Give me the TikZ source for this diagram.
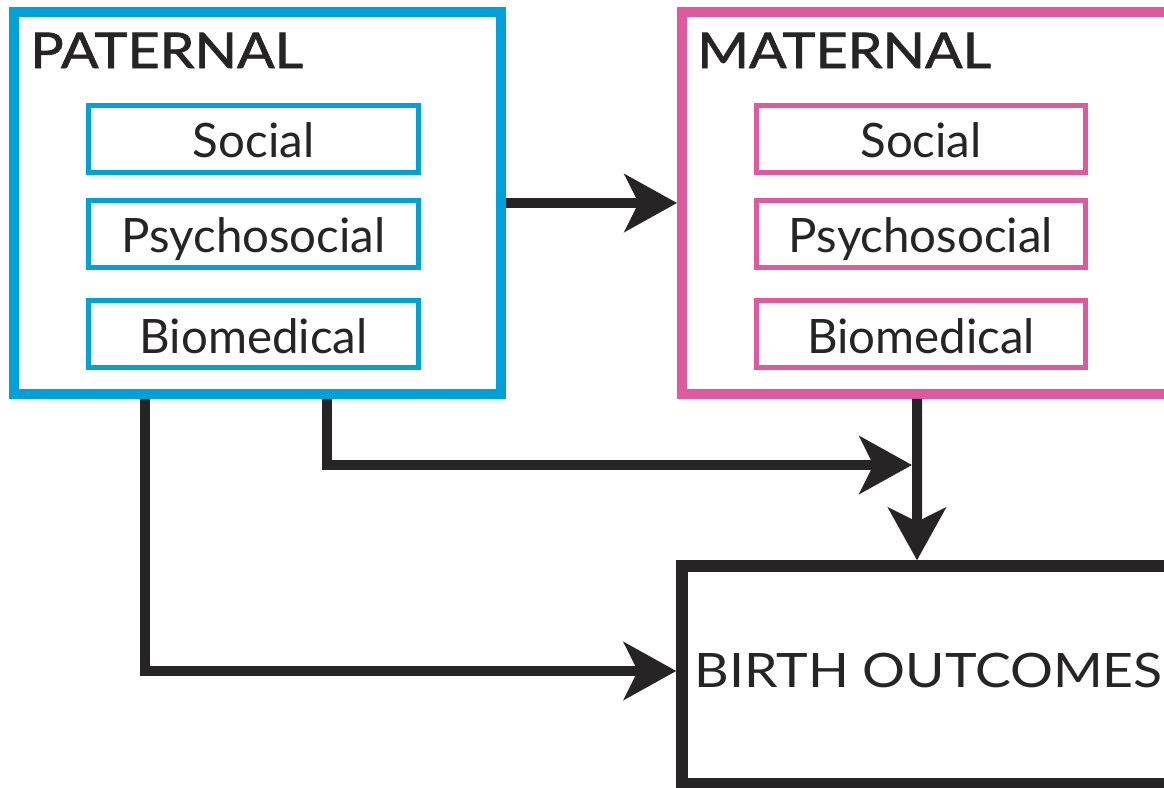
\documentclass[tikz,border=0pt]{standalone}
\usepackage{fontspec}
\setmainfont{Lato}
\newfontfamily\headfont[FakeBold=1.5,FakeStretch=1.13]{Lato}
\newfontfamily\widefont[FakeStretch=1.13]{Lato}
\usetikzlibrary{arrows.meta}
\definecolor{patblue}{RGB}{0,160,218}
\definecolor{matpink}{RGB}{224,88,158}
\definecolor{ink}{RGB}{38,36,37}
\begin{document}
\begin{tikzpicture}[x=0.02cm, y=-0.02cm,
  every node/.style={font=\fontsize{27}{30}\selectfont, text=ink},
  outer/.style={draw,line width=0.2cm,minimum width=9.74cm,minimum height=7.64cm,inner sep=0pt},
  factor/.style={draw,line width=0.1cm,minimum width=6.6cm,minimum height=1.34cm,inner sep=0pt,text height=0.76cm,text depth=0cm},
  head/.style={anchor=base west,inner sep=0pt,font=\headfont\fontsize{28}{30}\selectfont},
  arr/.style={line width=0.2cm,draw=ink,-{Stealth[length=1.05cm,width=1.15cm,inset=0.28cm]}}]
\clip (0,0) rectangle (1164,788);
\fill[white] (0,0) rectangle (1164,788);
% the two parent boxes
\node[outer,draw=patblue] (pat) at (257.5,203) {};
\node[outer,draw=matpink] (mat) at (925.5,203) {};
\node[head] (pathead) at (30,68) {PATERNAL};
\node[head] (mathead) at (697,68) {MATERNAL};
\foreach \y/\t/\n in {139/Social/soc,234/Psychosocial/psy,334/Biomedical/bio} {
  \node[factor,draw=patblue] (p\n) at (253.5,\y) {\t};
  \node[factor,draw=matpink] (m\n) at (921,\y) {\t};
}
% outcome
\node[draw=ink,line width=0.23cm,minimum width=9.84cm,minimum height=4.36cm,inner sep=0pt] (birth) at (928,675) {};
\node[anchor=base west,inner sep=0pt,font=\widefont\fontsize{27}{30}\selectfont] (birthtext) at (694,687) {BIRTH OUTCOMES};
\coordinate (junc) at (912,465);
\draw[arr] (pat.east) -- (mat.west);
\draw[arr] ([xshift=1.39cm]pat.south) |- (junc);
\draw[arr] ([xshift=-0.17cm]mat.south) -- ([xshift=-0.22cm]birth.north);
\draw[arr] ([xshift=-2.25cm]pat.south) |- ([yshift=0.08cm]birth.west);
\end{tikzpicture}
\end{document}
